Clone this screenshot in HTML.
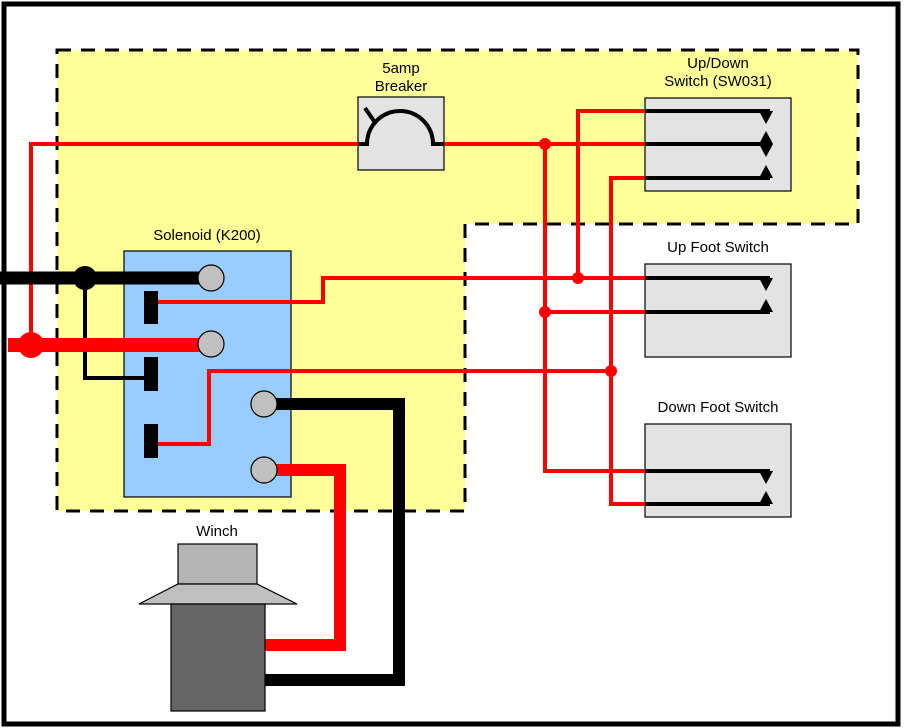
<!DOCTYPE html>
<html><head><style>html,body{margin:0;padding:0;background:#fff}svg{display:block}</style></head>
<body>
<svg width="904" height="728" viewBox="0 0 904 728" xmlns="http://www.w3.org/2000/svg" font-family="Liberation Sans, Arial, sans-serif" font-size="15">
<rect x="4" y="4" width="894" height="720" fill="#fff" stroke="#000" stroke-width="5"/>
<polygon points="57,50 858,50 858,224 465,224 465,511 57,511" fill="#ffff99" stroke="#000" stroke-width="3" stroke-dasharray="14,10"/>
<!-- Solenoid -->
<rect x="124" y="251" width="167" height="246" fill="#99ccff" stroke="#000" stroke-width="1.2"/>
<text x="207" y="240" text-anchor="middle">Solenoid (K200)</text>
<!-- Breaker -->
<rect x="358" y="97" width="86" height="73" fill="#e3e3e3" stroke="#000" stroke-width="1.2"/>
<text x="401" y="73" text-anchor="middle">5amp</text>
<text x="401" y="91" text-anchor="middle">Breaker</text>
<!-- Switches -->
<rect x="645" y="98" width="146" height="93" fill="#e3e3e3" stroke="#000" stroke-width="1.2"/>
<text x="718" y="68" text-anchor="middle">Up/Down</text>
<text x="718" y="86" text-anchor="middle">Switch (SW031)</text>
<rect x="645" y="264" width="146" height="93" fill="#e3e3e3" stroke="#000" stroke-width="1.2"/>
<text x="718" y="252" text-anchor="middle">Up Foot Switch</text>
<rect x="645" y="424" width="146" height="93" fill="#e3e3e3" stroke="#000" stroke-width="1.2"/>
<text x="718" y="412" text-anchor="middle">Down Foot Switch</text>
<!-- switch contacts -->
<g stroke="#000" stroke-width="4">
<line x1="645" y1="111" x2="770" y2="111"/><line x1="645" y1="144" x2="770" y2="144"/><line x1="645" y1="178" x2="770" y2="178"/>
<line x1="645" y1="278" x2="770" y2="278"/><line x1="645" y1="312" x2="770" y2="312"/>
<line x1="645" y1="471" x2="770" y2="471"/><line x1="645" y1="504" x2="770" y2="504"/>
</g>
<g fill="#000">
<polygon points="759,111 773,111 766,124"/>
<polygon points="766,131 773,144 766,157 759,144"/>
<polygon points="759,178 773,178 766,165"/>
<polygon points="759,278 773,278 766,291"/>
<polygon points="759,312 773,312 766,299"/>
<polygon points="759,471 773,471 766,484"/>
<polygon points="759,504 773,504 766,491"/>
</g>
<!-- red thin wires -->
<g stroke="#f00" stroke-width="4" fill="none">
<polyline points="31,345 31,144 358,144"/>
<line x1="444" y1="144" x2="645" y2="144"/>
<polyline points="545,144 545,471 645,471"/>
<line x1="545" y1="312" x2="645" y2="312"/>
<polyline points="645,111 578,111 578,278"/>
<polyline points="155,302 323,302 323,278 645,278"/>
<polyline points="645,178 611,178 611,504 645,504"/>
<polyline points="155,444 209,444 209,371 611,371"/>
</g>
<g fill="#f00">
<circle cx="545" cy="144" r="6"/><circle cx="545" cy="312" r="6"/><circle cx="578" cy="278" r="6"/><circle cx="611" cy="371" r="6"/>
</g>
<!-- breaker symbol -->
<g stroke="#000" stroke-width="4" fill="none">
<path d="M358,144 H367 A33,33 0 0 1 433,144 H444"/>
<line x1="365" y1="108" x2="376" y2="124"/>
</g>
<!-- thick wires -->
<line x1="0" y1="278" x2="210" y2="278" stroke="#000" stroke-width="13"/>
<polyline points="85,278 85,378 150,378" stroke="#000" stroke-width="4" fill="none"/>
<circle cx="85" cy="278" r="12" fill="#000"/>
<line x1="8" y1="345" x2="210" y2="345" stroke="#f00" stroke-width="14"/>
<circle cx="31" cy="345" r="13" fill="#f00"/>
<polyline points="263,404 399,404 399,680 265,680" stroke="#000" stroke-width="12" fill="none"/>
<polyline points="263,470 340,470 340,645 265,645" stroke="#f00" stroke-width="12" fill="none"/>
<!-- coils -->
<g fill="#000">
<rect x="144" y="291" width="14" height="33"/>
<rect x="144" y="357" width="14" height="34"/>
<rect x="144" y="424" width="14" height="34"/>
</g>
<g fill="#c0c0c0" stroke="#000" stroke-width="1.2">
<circle cx="211" cy="278" r="13"/><circle cx="211" cy="344" r="13"/><circle cx="264" cy="404" r="13"/><circle cx="264" cy="470" r="13"/>
</g>
<!-- Winch -->
<text x="217" y="536" text-anchor="middle">Winch</text>
<rect x="178" y="544" width="79" height="40" fill="#b4b4b4" stroke="#000" stroke-width="1.2"/>
<polygon points="178,584 257,584 297,604 139,604" fill="#c0c0c0" stroke="#000" stroke-width="1.2"/>
<rect x="171" y="604" width="94" height="107" fill="#666" stroke="#000" stroke-width="1.2"/>
</svg>
</body></html>
